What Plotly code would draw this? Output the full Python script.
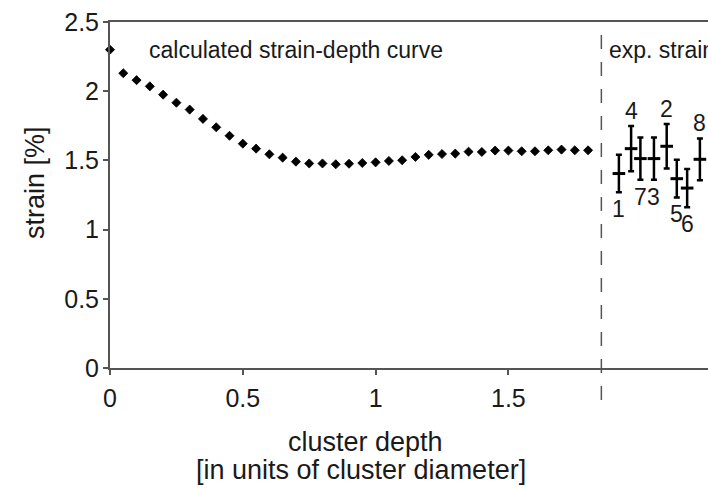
import plotly.graph_objects as go

# calculated strain-depth curve
depth = [round(0.05 * i, 2) for i in range(37)]
strain_calc = [2.30, 2.13, 2.08, 2.035, 1.975, 1.917, 1.867, 1.80, 1.739, 1.678,
               1.621, 1.585, 1.544, 1.52, 1.491, 1.478, 1.478, 1.472, 1.476, 1.481,
               1.486, 1.496, 1.501, 1.525, 1.54, 1.546, 1.549, 1.563, 1.561, 1.571,
               1.571, 1.566, 1.566, 1.573, 1.578, 1.573, 1.573]

# experimental strain values
exp_labels = ["1", "4", "7", "3", "2", "5", "6", "8"]
exp_x = [1.916, 1.962, 1.997, 2.048, 2.096, 2.134, 2.173, 2.221]
exp_strain = [1.405, 1.585, 1.513, 1.513, 1.602, 1.368, 1.30, 1.508]
exp_err = [0.136, 0.164, 0.152, 0.152, 0.161, 0.136, 0.138, 0.151]
label_above = [False, True, False, False, True, False, False, True]

x_ticks = [0, 0.5, 1, 1.5]
x_ticktext = ["0", "0.5", "1", "1.5"]
y_ticks = [0, 0.5, 1, 1.5, 2, 2.5]
y_ticktext = ["0", "0.5", "1", "1.5", "2", "2.5"]
separator_x = 1.85

FONT = "Liberation Sans"
AX_COLOR = "#555555"
TXT = "#1a1a1a"

fig = go.Figure()
fig.add_trace(go.Scatter(
    x=depth, y=strain_calc, mode="markers",
    marker=dict(symbol="diamond", size=7, color="black",
                line=dict(width=0.8, color="black")),
    showlegend=False, cliponaxis=False, hoverinfo="skip"))
fig.add_trace(go.Scatter(
    x=exp_x, y=exp_strain, mode="markers",
    marker=dict(symbol="line-ew", size=9, line=dict(width=3, color="black")),
    error_y=dict(type="data", array=exp_err, visible=True, color="black",
                 thickness=2.5, width=3),
    showlegend=False, cliponaxis=False, hoverinfo="skip"))

annotations = []
for lab, x, y, e, above in zip(exp_labels, exp_x, exp_strain, exp_err, label_above):
    annotations.append(dict(
        x=x, y=(y + e) if above else (y - e), xref="x", yref="y",
        text=lab, showarrow=False, yanchor="middle",
        yshift=15 if above else -17,
        font=dict(family=FONT, size=23, color=TXT)))

annotations += [
    dict(x=0.138, y=2.296, xref="x", yref="y", text="calculated strain-depth curve",
         showarrow=False, xanchor="left", yanchor="middle",
         font=dict(family=FONT, size=23, color=TXT)),
    dict(x=1.871, y=2.296, xref="x", yref="y", text="exp. strain",
         showarrow=False, xanchor="left", yanchor="middle",
         font=dict(family=FONT, size=23, color=TXT)),
    dict(x=-0.1254, y=0.5347, xref="paper", yref="paper", text="strain [%]",
         textangle=-90, showarrow=False, xanchor="center", yanchor="middle",
         font=dict(family=FONT, size=27, color=TXT)),
    dict(x=0.428, y=-0.213, xref="paper", yref="paper", text="cluster depth",
         showarrow=False, xanchor="center", yanchor="middle",
         font=dict(family=FONT, size=27, color=TXT)),
    dict(x=0.419, y=-0.295, xref="paper", yref="paper",
         text="[in units of cluster diameter]",
         showarrow=False, xanchor="center", yanchor="middle",
         font=dict(family=FONT, size=27, color=TXT)),
]

fig.add_shape(type="line", xref="x", yref="paper", x0=separator_x, x1=separator_x,
              y0=-0.0925, y1=1, line=dict(color=AX_COLOR, width=1.5, dash="14px,13px"))

fig.update_layout(
    width=708, height=489,
    margin=dict(l=110, r=0, t=22, b=121),
    paper_bgcolor="white", plot_bgcolor="white",
    annotations=annotations,
    xaxis=dict(range=[0, 2.2515], tickvals=x_ticks, ticktext=x_ticktext,
               showgrid=False, zeroline=False, showline=True, mirror=True,
               linecolor=AX_COLOR, linewidth=2, ticks="outside", ticklen=5,
               tickcolor=AX_COLOR, tickwidth=1.5, ticklabelstandoff=2,
               tickfont=dict(family=FONT, size=25, color=TXT)),
    yaxis=dict(range=[0, 2.5], tickvals=y_ticks, ticktext=y_ticktext,
               showgrid=False, zeroline=False, showline=True,
               linecolor=AX_COLOR, linewidth=2, ticks="outside", ticklen=5,
               tickcolor=AX_COLOR, tickwidth=1.5, ticklabelstandoff=-1,
               tickfont=dict(family=FONT, size=25, color=TXT)),
)

fig.write_html("out.html",
               config={"displayModeBar": False},
               post_script="document.body.style.margin='0';"
                           "document.body.style.overflow='hidden';")
